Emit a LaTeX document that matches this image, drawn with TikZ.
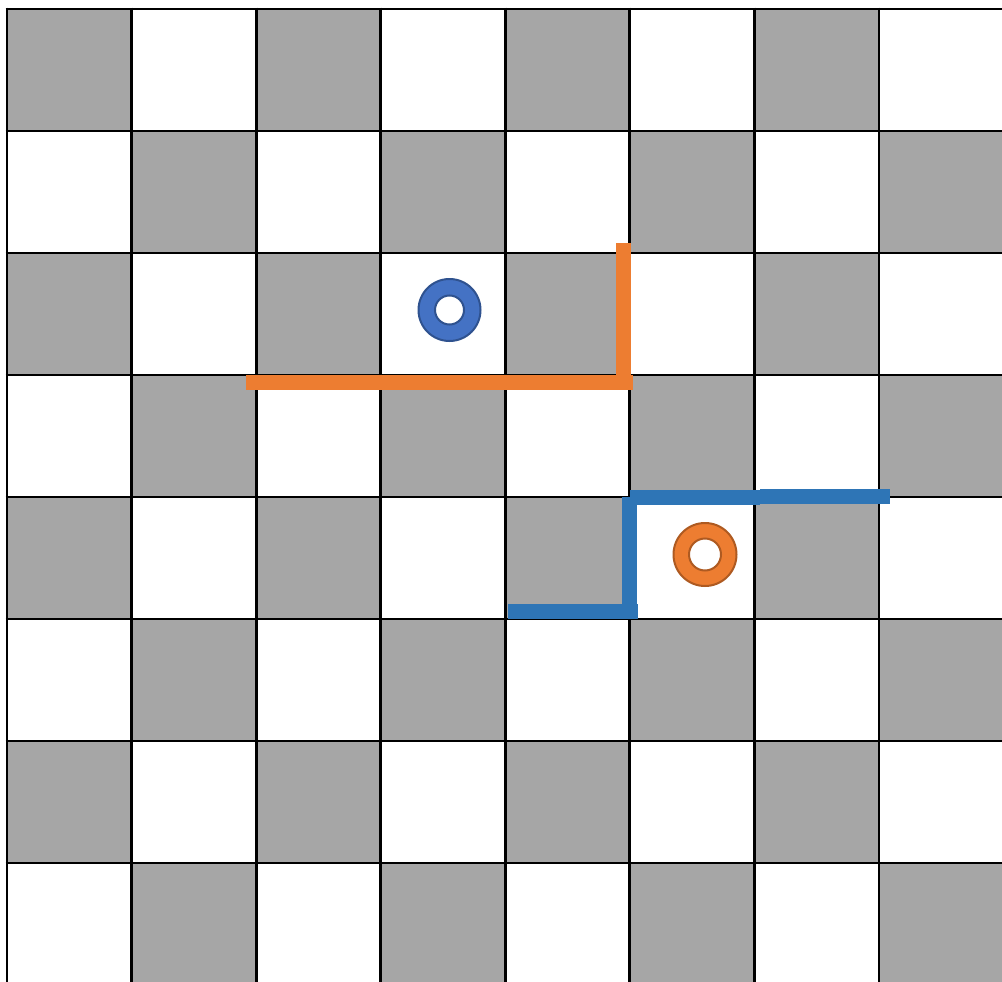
\documentclass[tikz,border=0pt]{standalone}
\definecolor{boardgray}{HTML}{A6A6A6}
\definecolor{wallorange}{HTML}{ED7D31}
\definecolor{wallblue}{HTML}{2E75B6}
\definecolor{ringblue}{HTML}{4472C4}
\definecolor{ringblueedge}{HTML}{2F528F}
\definecolor{ringorange}{HTML}{ED7D31}
\definecolor{ringorangeedge}{HTML}{AE5A21}
\tikzset{
  gridline/.style={draw=black, line width=2.8pt},
  orangewall/.style={draw=wallorange, line width=15pt, line cap=butt},
  bluewall/.style={draw=wallblue, line width=15pt, line cap=butt},
  ringstyle/.style={line width=2pt, even odd rule},
}
\begin{document}
\begin{tikzpicture}[x=1pt,y=-1pt]
\useasboundingbox (0,0) rectangle (1002,982);
\begin{scope}
\clip (0,0) rectangle (1002,982);
\fill[white] (0,0) rectangle (1002,982);
\foreach \c in {0,...,7}{
  \foreach \r in {0,...,7}{
    \pgfmathtruncatemacro\m{mod(\r+\c,2)}
    \ifnum\m=0
      \fill[boardgray] ({7+\c*124.57},{9+\r*122}) rectangle ++(124.57,122);
    \fi
  }
}
\foreach \c in {0,...,8}{
  \draw[gridline] ({7+\c*124.57},7.6) -- ({7+\c*124.57},990);
}
\foreach \r in {0,...,8}{
  \draw[gridline] (5.6,{9+\r*122}) -- (1010,{9+\r*122});
}
\end{scope}
% orange wall
\coordinate (oa) at (246,382);
\coordinate (ob) at (376,382);
\coordinate (oc) at (633,382);
\coordinate (od) at (623,243);
\coordinate (oe) at (623,382);
\draw[orangewall] (oa) -- (ob);
\draw[orangewall] (ob) -- (oc);
\draw[orangewall] (od) -- (oe);
% blue wall
\coordinate (ba) at (630,497.5);
\coordinate (bb) at (760,497.5);
\coordinate (bc) at (760,496);
\coordinate (bd) at (890,496);
\coordinate (be) at (629.5,497);
\coordinate (bf) at (629.5,619);
\coordinate (bg) at (508,611.5);
\coordinate (bh) at (638,611.5);
\draw[bluewall] (ba) -- (bb);
\draw[bluewall] (bc) -- (bd);
\draw[bluewall] (be) -- (bf);
\draw[bluewall] (bg) -- (bh);
% rings
\coordinate (blue ring) at (449.5,310);
\coordinate (orange ring) at (705,554.5);
\path[ringstyle, fill=ringblue, draw=ringblueedge]
  (blue ring) circle (31) (blue ring) circle (14.5);
\path[ringstyle, fill=ringorange, draw=ringorangeedge]
  (orange ring) circle (31.5) (orange ring) circle (16);
\end{tikzpicture}
\end{document}
